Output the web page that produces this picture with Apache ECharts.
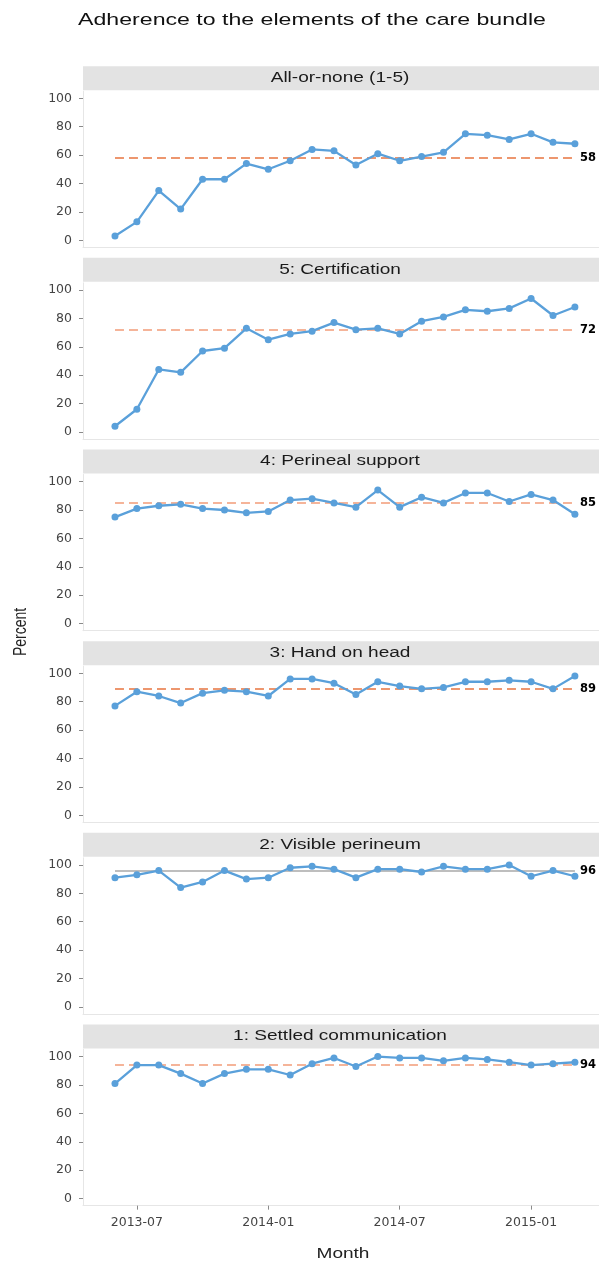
<!DOCTYPE html>
<html>
<head>
<meta charset="utf-8">
<script src="https://cdn.jsdelivr.net/npm/echarts@6/dist/echarts.min.js"></script>
<style>
html,body{margin:0;padding:0;background:#fff;}
#chart{width:599px;height:1264px;}
</style>
</head>
<body>
<div id="chart"></div>
<script>
// ---- data ----
const months = ['2013-06','2013-07','2013-08','2013-09','2013-10','2013-11','2013-12',
  '2014-01','2014-02','2014-03','2014-04','2014-05','2014-06','2014-07','2014-08',
  '2014-09','2014-10','2014-11','2014-12','2015-01','2015-02','2015-03'];
const xTickLabels = ['2013-07','2014-01','2014-07','2015-01'];
const yTickLabels = [0, 20, 40, 60, 80, 100];
const panelTitles = ['All-or-none (1-5)','5: Certification','4: Perineal support',
  '3: Hand on head','2: Visible perineum','1: Settled communication'];
const allOrNone = [3,13,35,22,43,43,54,50,56,64,63,53,61,56,59,62,75,74,71,75,69,68];
const certification = [4,16,44,42,57,59,73,65,69,71,77,72,73,69,78,81,86,85,87,94,82,88];
const perinealSupport = [75,81,83,84,81,80,78,79,87,88,85,82,94,82,89,85,92,92,86,91,87,77];
const handOnHead = [77,87,84,79,86,88,87,84,96,96,93,85,94,91,89,90,94,94,95,94,89,98];
const visiblePerineum = [91,93,96,84,88,96,90,91,98,99,97,91,97,97,95,99,97,97,100,92,96,92];
const settledComm = [81,94,94,88,81,88,91,91,87,95,99,93,100,99,99,97,99,98,96,94,95,96];
const panelValues = [allOrNone, certification, perinealSupport, handOnHead, visiblePerineum, settledComm];
const medians = [58, 72, 85, 89, 96, 94];
const chartTitle = 'Adherence to the elements of the care bundle';
const xTitle = 'Month';
const yTitle = 'Percent';

// ---- styles ----
const FONT = '"Liberation Sans", Arial, sans-serif';
const TICK_FONT = '"DejaVu Sans", sans-serif';
const STRETCH = 1.36;
const LINE_COLOR = '#5AA0DA';
const refStyles = [
  {color:'#E8743F', type:[9,5], width:1.6},
  {color:'#F29C78', type:[9,5], width:1.6},
  {color:'#F29C78', type:[9,5], width:1.6},
  {color:'#E8743F', type:[9,5], width:1.6},
  {color:'#A8A8A8', type:'solid', width:1.6},
  {color:'#F29C78', type:[9,5], width:1.6}
];
const GRID_LEFT = 83, GRID_W = 516;
const FIRST_TOP = 91.2, STEP = 191.65, GRID_H = 156.2;

const chart = echarts.init(document.getElementById('chart'), null, {renderer:'canvas'});

const grids = [], xAxes = [], yAxes = [], series = [], graphics = [];
const xTickVals = xTickLabels.map(t => months.indexOf(t));
const n = panelTitles.length;

function stretchedText(x, y, text, size, color, extra) {
  return Object.assign({
    type: 'text', x: x, y: y, scaleX: STRETCH, silent: true,
    style: {text: text, fill: color, fontSize: size, fontFamily: FONT,
      align: 'center', verticalAlign: 'middle'}
  }, extra || {});
}

for (let i = 0; i < n; i++) {
  const top = FIRST_TOP + STEP * i;
  const isLast = i === n - 1;
  grids.push({left: GRID_LEFT, top: top, width: GRID_W, height: GRID_H});
  xAxes.push({
    type: 'value', gridIndex: i, min: -1.46, max: 22.1,
    axisLine: {show: true, onZero: false, lineStyle: {color: '#E6E6E6', width: 1}},
    axisTick: {show: isLast, customValues: xTickVals, length: 4, lineStyle: {color: '#8A8A8A'}},
    axisLabel: {show: isLast, customValues: xTickVals, margin: 11,
      formatter: v => months[Math.round(v)], color: '#444', fontSize: 12.5, fontFamily: TICK_FONT},
    splitLine: {show: false}
  });
  yAxes.push({
    type: 'value', gridIndex: i, min: -5, max: 105,
    axisLine: {show: true, onZero: false, lineStyle: {color: '#E6E6E6', width: 1}},
    axisTick: {show: true, customValues: yTickLabels, length: 4, lineStyle: {color: '#8A8A8A'}},
    axisLabel: {customValues: yTickLabels, margin: 11, color: '#444', fontSize: 12.5, fontFamily: TICK_FONT},
    splitLine: {show: false}
  });
  const rs = refStyles[i];
  series.push({
    type: 'line', xAxisIndex: i, yAxisIndex: i,
    data: panelValues[i].map((v, k) => [k, v]),
    symbol: 'circle', symbolSize: 7,
    lineStyle: {color: LINE_COLOR, width: 2.3},
    itemStyle: {color: LINE_COLOR},
    emphasis: {disabled: true},
    z: 3,
    markLine: {
      silent: true, symbol: 'none', animation: false,
      lineStyle: {color: rs.color, type: rs.type, width: rs.width},
      label: {show: true, position: 'end', distance: 5, formatter: String(medians[i]),
        color: '#000', fontWeight: 'bold', fontSize: 11.5, fontFamily: TICK_FONT},
      data: [[{coord: [0, medians[i]]}, {coord: [months.length - 1, medians[i]]}]],
      z: 2
    }
  });
  graphics.push({
    type: 'rect', x: GRID_LEFT, y: top - 25,
    shape: {x: 0, y: 0, width: GRID_W, height: 24}, style: {fill: '#E3E3E3'}, silent: true
  });
  graphics.push(stretchedText(GRID_LEFT + GRID_W / 2 - 1, top - 13, panelTitles[i], 14, '#1A1A1A'));
}

graphics.push(stretchedText(312, 20, chartTitle, 17, '#111'));
graphics.push(stretchedText(343, 1254, xTitle, 14, '#222'));
graphics.push({
  type: 'text', x: 21, y: 632, rotation: Math.PI / 2, scaleY: STRETCH, silent: true,
  style: {text: yTitle, fill: '#222', fontSize: 14, fontFamily: FONT,
    align: 'center', verticalAlign: 'middle'}
});

chart.setOption({
  animation: false,
  backgroundColor: '#fff',
  grid: grids, xAxis: xAxes, yAxis: yAxes, series: series,
  graphic: {elements: graphics}
});
</script>
</body>
</html>
